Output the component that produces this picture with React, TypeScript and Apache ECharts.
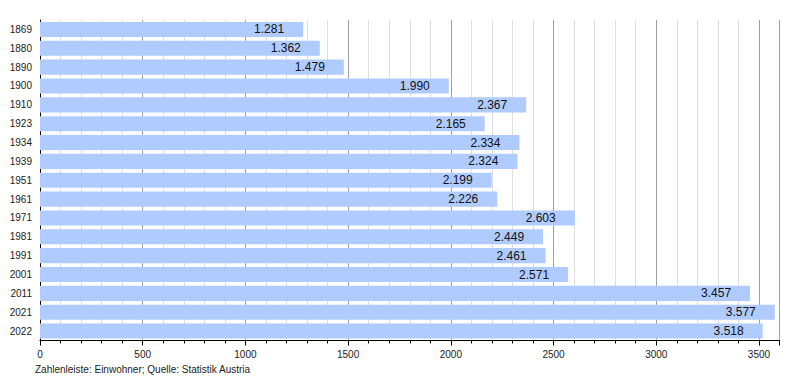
import React, { useEffect, useRef } from "react";
import * as echarts from "echarts";

const years = ["1869", "1880", "1890", "1900", "1910", "1923", "1934", "1939", "1951", "1961", "1971", "1981", "1991", "2001", "2011", "2021", "2022"];
const population = [1281, 1362, 1479, 1990, 2367, 2165, 2334, 2324, 2199, 2226, 2603, 2449, 2461, 2571, 3457, 3577, 3518];
const footnote = "Zahlenleiste: Einwohner; Quelle: Statistik Austria";

const fmt = (v: number) => {
  const s = String(Math.round(v));
  return s.length > 3 ? s.slice(0, s.length - 3) + "." + s.slice(s.length - 3) : s;
};

export default function App() {
  const ref = useRef<HTMLDivElement>(null);
  useEffect(() => {
    if (!ref.current) return;
    const chart = echarts.init(ref.current, undefined, { renderer: "svg" });
    const font = "'Liberation Sans', Arial, sans-serif";
    chart.setOption({
      animation: false,
      textStyle: { fontFamily: font },
      grid: { left: 40, right: 20.5, top: 20, bottom: 39.5, containLabel: false },
      xAxis: {
        type: "value",
        min: 0,
        max: 3600,
        interval: 500,
        axisLine: { show: true, lineStyle: { color: "#000", width: 1 } },
        axisTick: { show: true, length: 5, lineStyle: { color: "#000" } },
        minorTick: { show: true, splitNumber: 5, length: 3, lineStyle: { color: "#000" } },
        axisLabel: {
          color: "#222",
          fontSize: 10,
          fontFamily: font,
          margin: 9,
          formatter: (v: number) => (v > 3500 ? "" : String(v)),
        },
        splitLine: { show: true, lineStyle: { color: "#a0a0a0", width: 1 } },
        minorSplitLine: { show: true, lineStyle: { color: "#dedede", width: 1 } },
      },
      yAxis: {
        type: "category",
        data: years,
        inverse: true,
        axisLine: { show: true, lineStyle: { color: "#000", width: 1 } },
        axisTick: { show: false },
        axisLabel: { color: "#222", fontSize: 10, fontFamily: font, margin: 8 },
        splitLine: { show: false },
      },
      graphic: [
        {
          type: "text",
          left: 35,
          top: 364,
          style: { text: footnote, fontSize: 10, fontFamily: font, fill: "#222" },
        },
      ],
      series: [
        {
          type: "bar",
          data: population,
          barCategoryGap: "20%",
          itemStyle: { color: "#b0cbff" },
          label: {
            show: true,
            position: "insideRight",
            distance: 19,
            color: "#111",
            fontSize: 12,
            fontFamily: font,
            formatter: (p: any) => fmt(p.value),
          },
        },
      ],
    });
    return () => chart.dispose();
  }, []);
  return <div ref={ref} style={{ width: 800, height: 380, position: "absolute", left: 0, top: 0 }} />;
}
